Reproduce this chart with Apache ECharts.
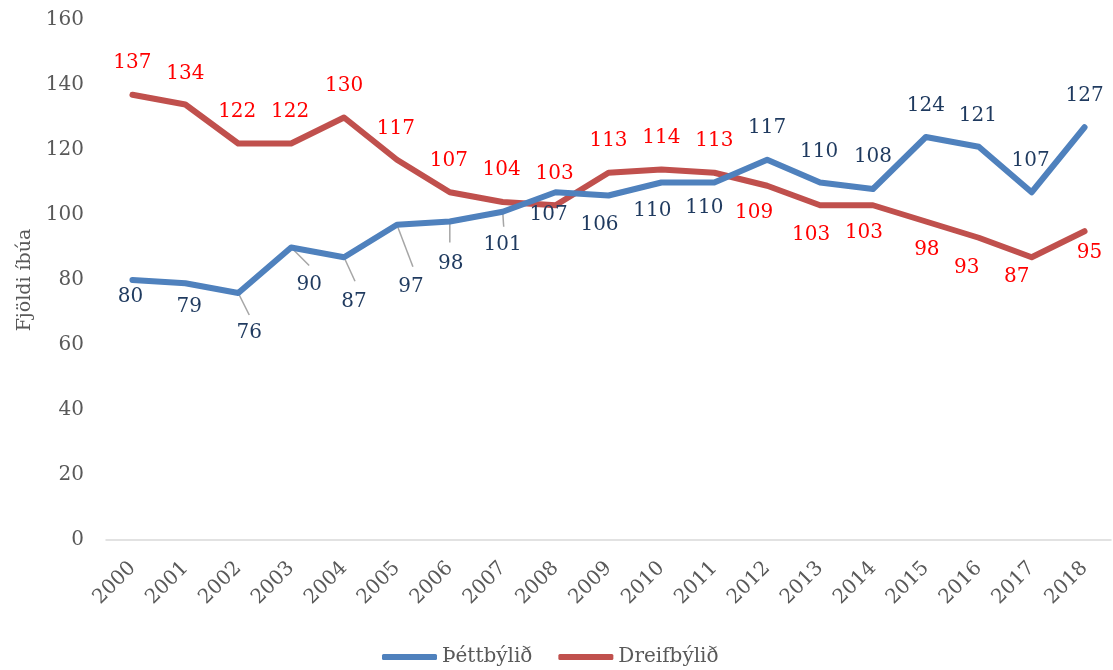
<!DOCTYPE html>
<html>
<head>
<meta charset="utf-8">
<script src="https://cdn.jsdelivr.net/npm/echarts@6/dist/echarts.min.js"></script>
<style>
  html, body { margin: 0; padding: 0; background: #fff; }
  #chart { width: 1113px; height: 670px; }
</style>
</head>
<body>
<div id="chart"></div>
<script>
// Population by year, urban vs rural
const years = ['2000','2001','2002','2003','2004','2005','2006','2007','2008','2009',
               '2010','2011','2012','2013','2014','2015','2016','2017','2018'];
const urban = [80, 79, 76, 90, 87, 97, 98, 101, 107, 106, 110, 110, 117, 110, 108, 124, 121, 107, 127];
const rural = [137, 134, 122, 122, 130, 117, 107, 104, 103, 113, 114, 113, 109, 103, 103, 98, 93, 87, 95];
const seriesNames = ['Þéttbýlið', 'Dreifbýlið'];
const axisTitle = 'Fjöldi íbúa';

// label offsets (px) from each point
const urbanLabelOffsets = [[-2,17],[4,24],[11,40],[18,37],[10,45],[14,62],[1,42],[0,33],[-7,23],[-9,29],[-9,28],[-10,25],
                           [0,-32],[-1,-31],[0,-32],[0,-31],[-1,-31],[-1,-31],[0,-31]];
const ruralLabelOffsets = [[0,-32],[0,-31],[-1,-32],[-1,-32],[0,-32],[-1,-31],[-1,-31],[-1,-32],[-1,-31],[0,-32],[0,-32],[0,-32],
                           [-13,27],[-9,30],[-9,28],[1,28],[-12,30],[-15,20],[5,22]];
// leader lines for crowded urban labels: [index, dx, dy]
const urbanLeaders = [[2,11,22],[3,18,18],[4,11,24],[5,16,42],[6,0,21],[7,1,15]];

const serif = '"DejaVu Serif", "Liberation Serif", serif';
const blue = '#4F81BD', red = '#C0504D';

function withLabels(values, offsets) {
  return values.map((v, i) => ({
    value: v,
    label: { offset: offsets[i] }
  }));
}

const chart = echarts.init(document.getElementById('chart'));
chart.setOption({
  animation: false,
  grid: { left: 106, right: 2, top: 20, bottom: 130 },
  legend: {
    data: [
      { name: seriesNames[0], icon: 'roundRect', itemStyle: { color: blue } },
      { name: seriesNames[1], icon: 'roundRect', itemStyle: { color: red } }
    ],
    left: 377, top: 642,
    itemWidth: 55, itemHeight: 6, itemGap: 26,
    textStyle: { fontFamily: serif, fontSize: 20, color: '#595959' }
  },
  xAxis: {
    type: 'category',
    data: years,
    boundaryGap: true,
    axisLine: { lineStyle: { color: '#D9D9D9', width: 1.5 } },
    axisTick: { show: false },
    axisLabel: { rotate: 45, fontFamily: serif, fontSize: 20, color: '#595959', margin: 25 }
  },
  yAxis: {
    type: 'value',
    min: 0, max: 160, interval: 20,
    name: axisTitle,
    nameLocation: 'middle',
    nameGap: 70,
    nameTextStyle: { fontFamily: serif, fontSize: 19, color: '#595959' },
    axisLine: { show: false },
    axisTick: { show: false },
    splitLine: { show: false },
    axisLabel: { fontFamily: serif, fontSize: 20, color: '#595959', margin: 22 }
  },
  series: [
    {
      name: seriesNames[0],
      type: 'line',
      data: withLabels(urban, urbanLabelOffsets),
      symbol: 'circle', symbolSize: 0.1,
      itemStyle: { color: blue },
      lineStyle: { color: blue, width: 6, cap: 'round', join: 'round' },
      label: { show: true, position: 'inside', fontFamily: serif, fontSize: 20, color: '#1F3A5F' },
      z: 3
    },
    {
      name: seriesNames[1],
      type: 'line',
      data: withLabels(rural, ruralLabelOffsets),
      symbol: 'circle', symbolSize: 0.1,
      itemStyle: { color: red },
      lineStyle: { color: red, width: 6, cap: 'round', join: 'round' },
      label: { show: true, position: 'inside', fontFamily: serif, fontSize: 20, color: '#FF0000' },
      z: 2
    },
    {
      // gray leader lines from points to their labels
      type: 'custom',
      silent: true,
      z: 1,
      data: urbanLeaders.map(d => [d[0], urban[d[0]], d[1], d[2]]),
      renderItem: function (params, api) {
        const p = api.coord([api.value(0), api.value(1)]);
        return {
          type: 'line',
          shape: { x1: p[0], y1: p[1], x2: p[0] + api.value(2), y2: p[1] + api.value(3) },
          style: { stroke: '#A6A6A6', lineWidth: 1.5 }
        };
      }
    }
  ]
});
</script>
</body>
</html>
